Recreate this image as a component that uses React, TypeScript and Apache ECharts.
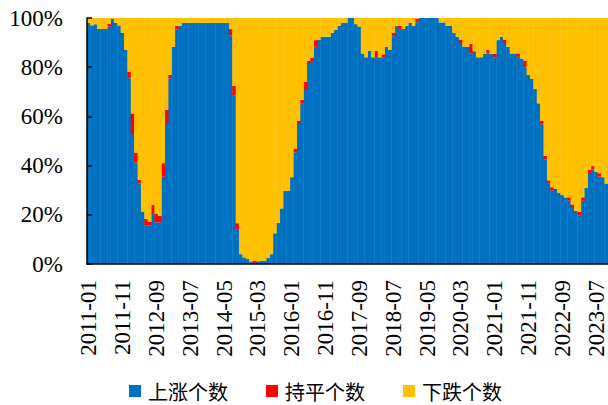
import React, { useEffect, useRef } from "react";
import * as echarts from "echarts";

// Month categories 2011-01 .. 2023-10
const startYear = 2011;
const monthCount = 154;
const categories: string[] = [];
for (let k = 0; k < monthCount; k++) {
  const y = startYear + Math.floor(k / 12);
  const m = (k % 12) + 1;
  categories.push(`${y}-${m < 10 ? "0" + m : m}`);
}

const seriesNames = ["上涨个数", "持平个数", "下跌个数"];

// share of rising (%)
const upPct = [
  98, 97, 97.5, 95.5, 95.5, 95.5, 96.5, 99.6, 98, 97,
  94, 87, 75.5, 52.8, 41.3, 32.8, 21.3, 15.6, 15.6, 20.3,
  16.9, 16.9, 35.5, 56.9, 75.5, 88.3, 95.4, 96.8, 98, 98,
  98, 98, 98, 98, 98, 98, 98, 98, 98, 98,
  98, 98, 92.8, 68.4, 13.9, 4, 2.7, 2, 1, 0.2,
  1.1, 1.3, 1.3, 2.5, 4, 12.5, 16.7, 22.6, 29.7, 29.7,
  35.3, 45.4, 56.9, 65.3, 71.1, 81.3, 82.5, 88.3, 91.1, 92.4,
  92.4, 92.4, 93.9, 95.2, 96.8, 98, 98, 100, 100, 97.5,
  96.5, 85.6, 84, 86.7, 84, 84, 84, 84, 88.3, 87,
  92.6, 96.9, 95.5, 95.5, 96.9, 98, 96.9, 98.3, 100, 100,
  100, 100, 100, 100, 98.2, 98.2, 96.9, 96.9, 94, 92.4,
  89.8, 88.3, 88.3, 85.7, 86.5, 84, 84, 85.4, 85.6, 85.4,
  84, 91, 92.4, 89.8, 88.3, 85.6, 85.6, 84.2, 83.5, 80,
  76.8, 75.2, 71.1, 65.3, 56.8, 42.6, 32.6, 29.8, 30.5, 29,
  28, 27, 25.7, 22.8, 21.6, 19.8, 25.7, 31, 37, 38.4,
  37.5, 35.5, 35.3, 32.7,
];

// share of unchanged (%)
const flatPct = [
  0, 0, 0, 0, 0, 0, 1.2, 0, 0, 0,
  0, 0, 2.7, 8.4, 4, 1.4, 0, 2.7, 1.5, 3.7,
  3.4, 2.7, 5.5, 5.7, 1.4, 0, 1.4, 0, 0, 0,
  0, 0, 0, 0, 0, 0, 0, 0, 0, 0,
  0, 0, 2.7, 4, 2.7, 0, 0, 0, 0, 1.1,
  0, 0, 0, 0, 0, 0, 0, 0, 0, 0,
  0, 1.4, 1.3, 1.4, 3, 1.3, 1.4, 2.7, 0, 0,
  0, 0, 0, 0, 0, 0, 0, 0, 0, 0,
  0, 0, 0, 0, 0, 2.7, 0, 1.2, 0, 0,
  1.3, 0, 1.3, 0, 0, 0, 0, 1.4, 0, 0,
  0, 0, 0, 0, 0, 0, 0, 0, 0, 0,
  1.4, 0, 0, 3.8, 0, 0, 0, 0, 1.4, 0,
  1.4, 0, 0, 1.4, 0, 0, 0, 1.4, 0, 2.7,
  0, 0, 0, 0, 1.4, 1.4, 1.4, 1.4, 0, 0,
  0, 0, 1.4, 1.4, 0, 1.4, 1.4, 0, 1.4, 1.4,
  0, 1.4, 0, 0,
];

// share of falling (%)
const downPct = [
  2, 3, 2.5, 4.5, 4.5, 4.5, 2.3, 0.4, 2, 3,
  6, 13, 21.8, 38.8, 54.7, 65.8, 78.7, 81.7, 82.9, 76,
  79.7, 80.4, 59, 37.4, 23.1, 11.7, 3.2, 3.2, 2, 2,
  2, 2, 2, 2, 2, 2, 2, 2, 2, 2,
  2, 2, 4.5, 27.6, 83.4, 96, 97.3, 98, 99, 98.7,
  98.9, 98.7, 98.7, 97.5, 96, 87.5, 83.3, 77.4, 70.3, 70.3,
  64.7, 53.2, 41.8, 33.3, 25.9, 17.4, 16.1, 9, 8.9, 7.6,
  7.6, 7.6, 6.1, 4.8, 3.2, 2, 2, 0, 0, 2.5,
  3.5, 14.4, 16, 13.3, 16, 13.3, 16, 14.8, 11.7, 13,
  6.1, 3.1, 3.2, 4.5, 3.1, 2, 3.1, 0.3, 0, 0,
  0, 0, 0, 0, 1.8, 1.8, 3.1, 3.1, 6, 7.6,
  8.8, 11.7, 11.7, 10.5, 13.5, 16, 16, 14.6, 13, 14.6,
  14.6, 9, 7.6, 8.8, 11.7, 14.4, 14.4, 14.4, 16.5, 17.3,
  23.2, 24.8, 28.9, 34.7, 41.8, 56, 66, 68.8, 69.5, 71,
  72, 73, 72.9, 75.8, 78.4, 78.8, 72.9, 69, 61.6, 60.2,
  62.5, 63.1, 64.7, 67.3,
];

const yTicks = [0, 20, 40, 60, 80, 100];

const colors = ["#0070C0", "#FF0000", "#FFC000"];
const serif = "'Liberation Serif', 'Times New Roman', serif";
const cjk = "'Noto Sans CJK SC', sans-serif";

export default function App() {
  const ref = useRef<HTMLDivElement>(null);
  useEffect(() => {
    if (!ref.current) return;
    const chart = echarts.init(ref.current, undefined, { renderer: "svg" });
    const dataSets = [upPct, flatPct, downPct];
    chart.setOption({
      animation: false,
      grid: { left: 87, right: 0, top: 18, bottom: 141 },
      legend: {
        data: seriesNames,
        left: 124,
        top: 375,
        icon: "rect",
        itemWidth: 12,
        itemHeight: 12,
        itemGap: 38,
        textStyle: {
          fontFamily: cjk,
          fontSize: 20,
          lineHeight: 22,
          color: "#000",
          padding: [0, 0, 0, 2],
        },
      },
      xAxis: {
        type: "category",
        data: categories,
        boundaryGap: true,
        axisLine: { lineStyle: { color: "#000", width: 1.5 } },
        axisTick: {
          inside: true,
          interval: 9,
          length: 5,
          lineStyle: { color: "#000", width: 1.5 },
        },
        axisLabel: {
          interval: 9,
          rotate: 90,
          margin: 16,
          fontFamily: serif,
          fontSize: 23,
          color: "#000",
        },
        z: 10,
      },
      yAxis: {
        type: "value",
        min: yTicks[0],
        max: yTicks[yTicks.length - 1],
        interval: 20,
        axisLine: { show: true, lineStyle: { color: "#000", width: 1.5 } },
        axisTick: {
          show: true,
          inside: true,
          length: 5,
          lineStyle: { color: "#000", width: 1.5 },
        },
        splitLine: { show: false },
        axisLabel: {
          formatter: "{value}%",
          margin: 24,
          fontFamily: serif,
          fontSize: 23,
          color: "#000",
        },
        z: 10,
      },
      series: seriesNames.map((name, idx) => ({
        name,
        type: "bar",
        stack: "total",
        barWidth: "112%",
        barGap: "-100%",
        data: dataSets[idx],
        itemStyle: { color: colors[idx], borderWidth: 0 },
        emphasis: { disabled: true },
      })),
    });
    return () => chart.dispose();
  }, []);
  return (
    <div
      ref={ref}
      style={{ position: "absolute", left: 0, top: 0, width: 608, height: 405 }}
    />
  );
}
